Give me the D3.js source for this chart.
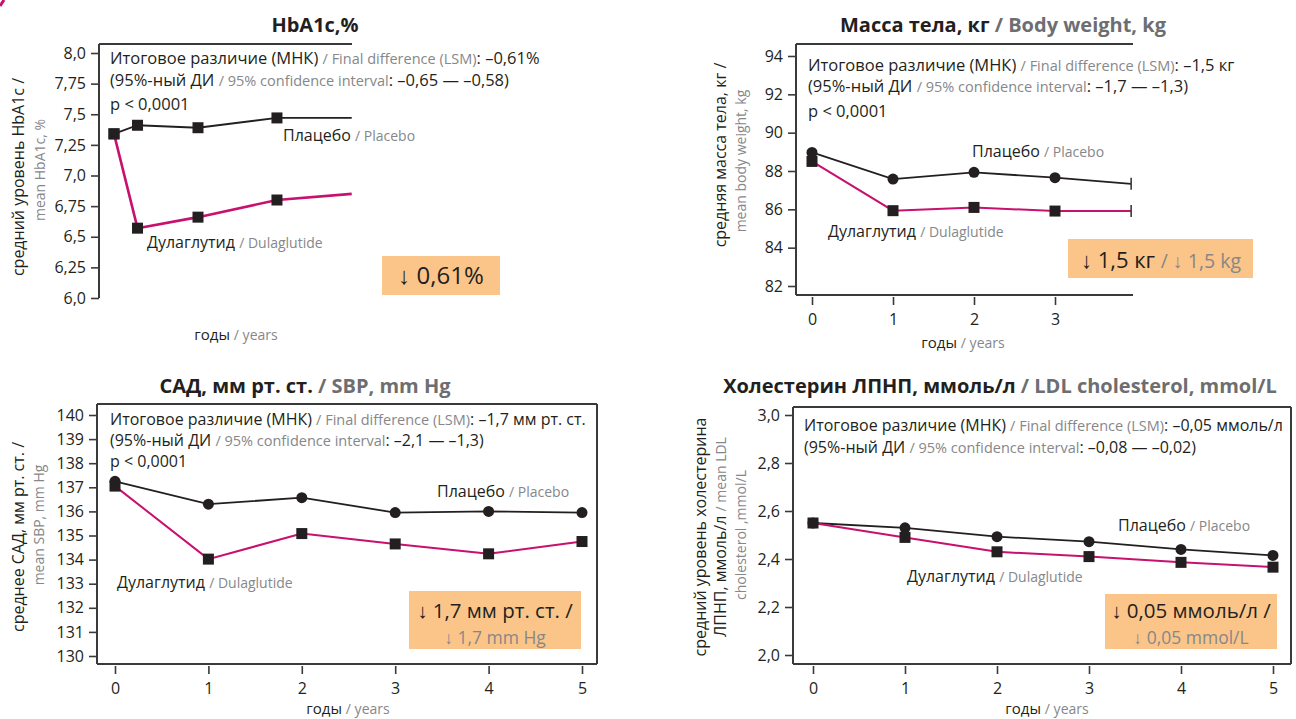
<!DOCTYPE html>
<html><head><meta charset="utf-8">
<script src="https://cdn.jsdelivr.net/npm/d3@7"></script>
<style>
html,body{margin:0;padding:0;background:#fff;}
svg{display:block;font-family:"Open Sans",Roboto,sans-serif;}
</style></head>
<body>
<svg id="chart" width="1296" height="719"></svg>
<script>
// ---------- DATA ----------
const hba1cX = [0, 0.28, 1, 1.94, 2.83];
const hba1cPlacebo = [7.34, 7.41, 7.39, 7.47, 7.47];
const hba1cDula = [7.34, 6.57, 6.66, 6.80, 6.85];
const hba1cTicks = [6.0, 6.25, 6.5, 6.75, 7.0, 7.25, 7.5, 7.75, 8.0];
const hba1cTickLabels = ["6,0", "6,25", "6,5", "6,75", "7,0", "7,25", "7,5", "7,75", "8,0"];

const weightX = [0, 1, 2, 3, 3.94];
const weightPlacebo = [88.97, 87.58, 87.93, 87.65, 87.33];
const weightDula = [88.5, 85.93, 86.1, 85.91, 85.91];
const weightTicks = [82, 84, 86, 88, 90, 92, 94];
const weightXTicks = [0, 1, 2, 3];

const years = [0, 1, 2, 3, 4, 5];
const sbpPlacebo = [137.25, 136.3, 136.57, 135.95, 136.0, 135.95];
const sbpDula = [137.05, 134.02, 135.08, 134.65, 134.24, 134.75];
const sbpTicks = [130, 131, 132, 133, 134, 135, 136, 137, 138, 139, 140];

const ldlPlacebo = [2.55, 2.53, 2.493, 2.472, 2.44, 2.415];
const ldlDula = [2.55, 2.49, 2.43, 2.41, 2.386, 2.366];
const ldlTicks = [2.0, 2.2, 2.4, 2.6, 2.8, 3.0];
const ldlTickLabels = ["2,0", "2,2", "2,4", "2,6", "2,8", "3,0"];

// ---------- STYLE ----------
const BLK = "#231f20", GRY = "#86878a", TGRY = "#6d6e71", MAG = "#c8106f", AX = "#3a3a3a", ORG = "#fbc589";
const svg = d3.select("#chart");

svg.append("path").attr("d", "M0,6 Q2,3 4,0").attr("stroke", MAG).attr("stroke-width", 3).attr("fill", "none");

function rich(sel, x, y, parts, o = {}) {
  const t = sel.append("text").attr("x", x).attr("y", y)
    .attr("text-anchor", o.anchor || "start");
  if (o.weight) t.attr("font-weight", o.weight);
  if (o.rotate) t.attr("transform", `rotate(-90 ${x} ${y})`);
  parts.forEach(([s, k]) => {
    t.append("tspan").text(s)
      .attr("fill", k === "g" ? (o.gc || GRY) : BLK)
      .attr("font-size", k === "g" ? (o.gs || 14.5) : (o.bs || 16.5));
  });
  return t;
}

function panel(p) {
  const g = svg.append("g");
  const x = d3.scaleLinear().domain(p.xDomain).range(p.xRange);
  const y = d3.scaleLinear().domain(p.yDomain).range(p.yRange);
  const f = p.frame;
  const ya = d3.axisLeft(y).tickValues(p.yTicks).tickSize(8).tickPadding(5)
    .tickFormat((d, i) => p.yLabels ? p.yLabels[i] : d);
  const yg = g.append("g").attr("transform", `translate(${f.l},0)`).call(ya);
  yg.select(".domain").remove();
  yg.selectAll("line").attr("stroke", AX).attr("stroke-width", 1.6);
  yg.selectAll("text").attr("font-size", 16).attr("fill", BLK).attr("font-family", "Open Sans");
  if (p.xTicks) {
    const xa = d3.axisBottom(x).tickValues(p.xTicks).tickSize(8).tickPadding(9).tickFormat(d3.format("d"));
    const xg = g.append("g").attr("transform", `translate(0,${f.b + 2})`).call(xa);
    xg.select(".domain").remove();
    xg.selectAll("line").attr("stroke", AX).attr("stroke-width", 1.6);
    xg.selectAll("text").attr("font-size", 16).attr("fill", BLK).attr("font-family", "Open Sans");
  }
  const fr = g.append("g").attr("stroke", AX).attr("stroke-width", 2).attr("fill", "none");
  fr.append("line").attr("x1", f.l).attr("x2", f.l).attr("y1", f.t).attr("y2", f.b);
  fr.append("line").attr("x1", f.l).attr("x2", f.r).attr("y1", f.t).attr("y2", f.t);
  if (p.sides.includes("b")) fr.append("line").attr("x1", f.l).attr("x2", f.r).attr("y1", f.b).attr("y2", f.b);
  if (p.sides.includes("r")) fr.append("line").attr("x1", f.r).attr("x2", f.r).attr("y1", f.t).attr("y2", f.b);

  const ob = p.box;
  g.append("rect").attr("x", ob.x).attr("y", ob.y).attr("width", ob.w).attr("height", ob.h).attr("fill", ORG);
  ob.lines.forEach(l => rich(g, l.x, l.y, l.parts, { anchor: "middle", bs: ob.bs, gs: ob.gs }));

  const line = d3.line().x(d => x(d[0])).y(d => y(d[1]));
  const series = [
    { v: p.placebo, color: BLK, w: 1.8, shape: p.placeboShape },
    { v: p.dula, color: MAG, w: p.magW || 2, shape: "square" }
  ];
  series.forEach(s => {
    const pts = p.xs.map((xx, i) => [xx, s.v[i]]);
    g.append("path").datum(pts).attr("d", line).attr("fill", "none").attr("stroke", s.color).attr("stroke-width", s.w);
  });
  series.forEach(s => {
    const pts = p.xs.map((xx, i) => [xx, s.v[i]]).slice(0, p.nMarkers);
    if (s.shape === "square") {
      g.selectAll(null).data(pts).enter().append("rect")
        .attr("x", d => x(d[0]) - 5.5).attr("y", d => y(d[1]) - 5.5)
        .attr("width", 11).attr("height", 11).attr("fill", BLK);
    } else {
      g.selectAll(null).data(pts).enter().append("circle")
        .attr("cx", d => x(d[0])).attr("cy", d => y(d[1])).attr("r", 5.5).attr("fill", BLK);
    }
    if (p.caps) {
      const last = [p.xs[p.xs.length - 1], s.v[s.v.length - 1]];
      g.append("line").attr("x1", x(last[0])).attr("x2", x(last[0]))
        .attr("y1", y(last[1]) - 6).attr("y2", y(last[1]) + 6).attr("stroke", AX).attr("stroke-width", 1.6);
    }
  });

  rich(g, p.title.x, p.title.y, p.title.parts, { anchor: "middle", weight: "bold", bs: 20, gs: 20, gc: TGRY });
  p.notes.forEach(n => rich(g, n.x, n.y, n.parts, n.o || {}));
}

const finalRu = "Итоговое различие (МНК) ";
const ciRu = "(95%-ный ДИ ";
const serO = { bs: 16, gs: 14 };
const axO = { anchor: "middle", bs: 15, gs: 14 };
const rotB = { anchor: "middle", rotate: true, bs: 16 };
const rotG = { anchor: "middle", rotate: true, gs: 14 };
const n4 = { bs: 16, gs: 14.5 };

panel({
  xDomain: [0, 1], xRange: [114, 198], yDomain: [6.0, 8.0], yRange: [298, 53],
  yTicks: hba1cTicks, yLabels: hba1cTickLabels,
  frame: { l: 99, t: 44, r: 352, b: 298 }, sides: "lt",
  xs: hba1cX, placebo: hba1cPlacebo, dula: hba1cDula, nMarkers: 4, placeboShape: "square", magW: 2.6,
  box: { x: 382, y: 256, w: 118, h: 39, bs: 24, gs: 20, lines: [{ x: 441, y: 284, parts: [["↓ 0,61%", "b"]] }] },
  title: { x: 315, y: 32, parts: [["HbA1c,%", "b"]] },
  notes: [
    { x: 110, y: 64, parts: [[finalRu, "b"], ["/ Final difference (LSM)", "g"], [": –0,61%", "b"]] },
    { x: 110, y: 86, parts: [[ciRu, "b"], ["/ 95% confidence interval", "g"], [": –0,65 — –0,58)", "b"]] },
    { x: 110, y: 110, parts: [["p < 0,0001", "b"]] },
    { x: 283, y: 141, parts: [["Плацебо ", "b"], ["/ Placebo", "g"]], o: serO },
    { x: 147, y: 248, parts: [["Дулаглутид ", "b"], ["/ Dulaglutide", "g"]], o: serO },
    { x: 236, y: 340, parts: [["годы ", "b"], ["/ years", "g"]], o: axO },
    { x: 24, y: 177, parts: [["средний уровень HbA1c /", "b"]], o: rotB },
    { x: 45, y: 170, parts: [["mean HbA1c, %", "g"]], o: rotG }
  ]
});

panel({
  xDomain: [0, 3], xRange: [812, 1055], yDomain: [82, 94], yRange: [286, 56],
  yTicks: weightTicks, xTicks: weightXTicks,
  frame: { l: 796, t: 44, r: 1133, b: 295 }, sides: "ltb",
  xs: weightX, placebo: weightPlacebo, dula: weightDula, nMarkers: 4, placeboShape: "circle", caps: true,
  box: { x: 1068, y: 239, w: 185, h: 39, bs: 22, gs: 19.5, lines: [{ x: 1161, y: 268, parts: [["↓ 1,5 кг ", "b"], ["/ ↓ 1,5 kg", "g"]] }] },
  title: { x: 1003, y: 32, parts: [["Масса тела, кг ", "b"], ["/ Body weight, kg", "g"]] },
  notes: [
    { x: 808, y: 71, parts: [[finalRu, "b"], ["/ Final difference (LSM)", "g"], [": –1,5 кг", "b"]] },
    { x: 808, y: 92, parts: [[ciRu, "b"], ["/ 95% confidence interval", "g"], [": –1,7 — –1,3)", "b"]] },
    { x: 808, y: 117, parts: [["p < 0,0001", "b"]] },
    { x: 972, y: 157, parts: [["Плацебо ", "b"], ["/ Placebo", "g"]], o: serO },
    { x: 828, y: 237, parts: [["Дулаглутид ", "b"], ["/ Dulaglutide", "g"]], o: serO },
    { x: 963, y: 348, parts: [["годы ", "b"], ["/ years", "g"]], o: axO },
    { x: 726, y: 155, parts: [["средняя масса тела, кг /", "b"]], o: rotB },
    { x: 746, y: 161, parts: [["mean body weight, kg", "g"]], o: rotG }
  ]
});

panel({
  xDomain: [0, 5], xRange: [115, 582], yDomain: [130, 140], yRange: [656, 415],
  yTicks: sbpTicks, xTicks: years,
  frame: { l: 97, t: 404, r: 597, b: 664 }, sides: "ltbr",
  xs: years, placebo: sbpPlacebo, dula: sbpDula, nMarkers: 6, placeboShape: "circle",
  box: { x: 409, y: 591, w: 172, h: 58, bs: 20.5, gs: 17.5, lines: [
    { x: 495, y: 618, parts: [["↓ 1,7 мм рт. ст. /", "b"]] },
    { x: 495, y: 644, parts: [["↓ 1,7 mm Hg", "g"]] }] },
  title: { x: 305, y: 393, parts: [["САД, мм рт. ст. ", "b"], ["/ SBP, mm Hg", "g"]] },
  notes: [
    { x: 110, y: 425, parts: [[finalRu, "b"], ["/ Final difference (LSM)", "g"], [": –1,7 мм рт. ст.", "b"]], o: n4 },
    { x: 110, y: 446, parts: [[ciRu, "b"], ["/ 95% confidence interval", "g"], [": –2,1 — –1,3)", "b"]], o: n4 },
    { x: 110, y: 467, parts: [["p < 0,0001", "b"]], o: n4 },
    { x: 437, y: 497, parts: [["Плацебо ", "b"], ["/ Placebo", "g"]], o: serO },
    { x: 117, y: 588, parts: [["Дулаглутид ", "b"], ["/ Dulaglutide", "g"]], o: serO },
    { x: 348, y: 714, parts: [["годы ", "b"], ["/ years", "g"]], o: axO },
    { x: 24, y: 537, parts: [["среднее САД, мм рт. ст. /", "b"]], o: rotB },
    { x: 44, y: 525, parts: [["mean SBP, mm Hg", "g"]], o: rotG }
  ]
});

panel({
  xDomain: [0, 5], xRange: [813, 1273], yDomain: [2.0, 3.0], yRange: [655, 415],
  yTicks: ldlTicks, yLabels: ldlTickLabels, xTicks: years,
  frame: { l: 793, t: 407, r: 1291, b: 664 }, sides: "ltbr",
  xs: years, placebo: ldlPlacebo, dula: ldlDula, nMarkers: 6, placeboShape: "circle",
  box: { x: 1105, y: 594, w: 172, h: 55, bs: 20.5, gs: 17.5, lines: [
    { x: 1191, y: 618, parts: [["↓ 0,05 ммоль/л /", "b"]] },
    { x: 1191, y: 644, parts: [["↓ 0,05 mmol/L", "g"]] }] },
  title: { x: 1000, y: 393, parts: [["Холестерин ЛПНП, ммоль/л ", "b"], ["/ LDL cholesterol, mmol/L", "g"]] },
  notes: [
    { x: 804, y: 431, parts: [[finalRu, "b"], ["/ Final difference (LSM)", "g"], [": –0,05 ммоль/л", "b"]], o: n4 },
    { x: 804, y: 453, parts: [[ciRu, "b"], ["/ 95% confidence interval", "g"], [": –0,08 — –0,02)", "b"]], o: n4 },
    { x: 1118, y: 531, parts: [["Плацебо ", "b"], ["/ Placebo", "g"]], o: serO },
    { x: 907, y: 582, parts: [["Дулаглутид ", "b"], ["/ Dulaglutide", "g"]], o: serO },
    { x: 1047, y: 714, parts: [["годы ", "b"], ["/ years", "g"]], o: axO },
    { x: 706, y: 537, parts: [["средний уровень холестерина", "b"]], o: rotB },
    { x: 726, y: 537, parts: [["ЛПНП, ммоль/л ", "b"], ["/ mean LDL", "g"]], o: { anchor: "middle", rotate: true, bs: 16, gs: 14 } },
    { x: 746, y: 535, parts: [["cholesterol ,mmol/L", "g"]], o: rotG }
  ]
});
</script>
</body></html>
